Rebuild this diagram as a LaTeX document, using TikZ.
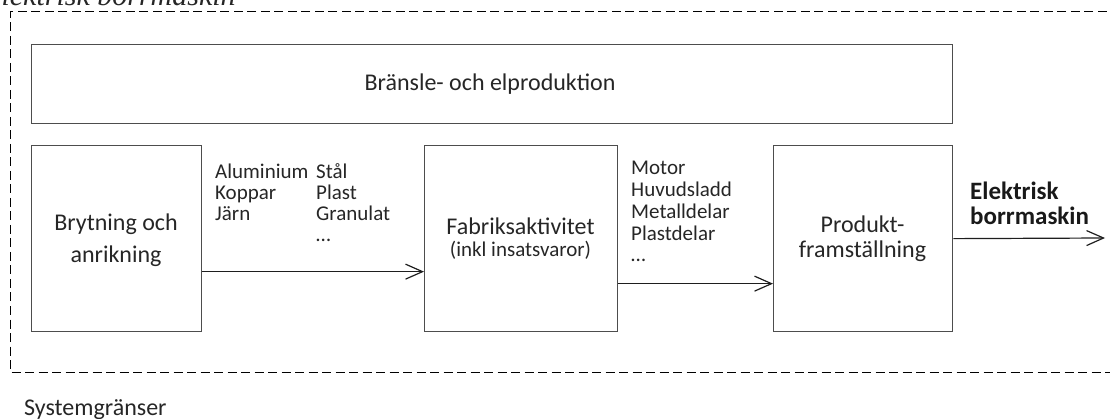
\documentclass[tikz,border=0pt]{standalone}
\usepackage{fontspec}
\setmainfont{Carlito}
\newfontfamily\titlefont{Liberation Serif}
\usetikzlibrary{arrows.meta}
\definecolor{boxgray}{HTML}{4D4D4D}
\definecolor{txtgray}{HTML}{262626}
\definecolor{linegray}{HTML}{1E1E1E}
\begin{document}
\begin{tikzpicture}[x=1pt,y=-1pt,
  box/.style={draw=boxgray, line width=1.3pt, anchor=north west, inner sep=0pt, minimum height=186pt},
  boxtxt/.style={anchor=base, inner sep=0pt, text=txtgray, font=\fontsize{24}{28}\selectfont},
  lbl/.style={anchor=base west, inner sep=0pt, text=txtgray, font=\fontsize{21}{25}\selectfont},
  arr/.style={draw=linegray, line width=1.2pt, -{Straight Barb[length=17pt,width=15pt]}},
  boundary/.style={draw=black, line width=1pt, dash pattern=on 9pt off 4.5pt}]
\useasboundingbox (0,0) rectangle (1110,419);
\clip (0,0) rectangle (1110,419);
% title (clipped at top)
\node[anchor=base west, inner sep=0pt, text=txtgray, font=\titlefont\itshape\fontsize{30}{36}\selectfont] (title) at (-17,5.5) {Elektrisk borrmaskin};
% system boundary
\draw[boundary] (1120,12) -- (10,12) -- (10,372) -- (1120,372);
% boxes
\node[box, minimum width=921pt, minimum height=79pt] (fuel) at (31,44) {};
\node[box, minimum width=170pt] (b1) at (31,145) {};
\node[box, minimum width=193pt] (b2) at (424,145) {};
\node[box, minimum width=179pt] (b3) at (773,145) {};
% box texts
\node[boxtxt] (fuelt) at (490,90.7) {Bränsle- och elproduktion};
\node[boxtxt] (b1a) at (116,231) {Brytning och};
\node[boxtxt] (b1b) at (116,263) {anrikning};
\node[boxtxt] (b2a) at (520.5,235) {Fabriksaktivitet};
\node[boxtxt, font=\fontsize{21}{25}\selectfont] (b2b) at (520.5,256.7) {(inkl insatsvaror)};
\node[boxtxt] (b3a) at (862.5,233) {Produkt-};
\node[boxtxt] (b3b) at (862.5,258) {framställning};
% arrows
\coordinate (out) at (1105,238);
\draw[arr] ([yshift=-33pt]b1.east) -- ([yshift=-33pt]b2.west);
\draw[arr] ([yshift=-45pt]b2.east) -- ([yshift=-45pt]b3.west);
\draw[arr] (b3.east) -- (out);
% flow labels
\node[lbl] (l1) at (215,178.3) {Aluminium};
\node[lbl] (l2) at (215,199.5) {Koppar};
\node[lbl] (l3) at (215,220.7) {Järn};
\node[lbl] (m1) at (316,178.3) {Stål};
\node[lbl] (m2) at (316,199.5) {Plast};
\node[lbl] (m3) at (316,220.7) {Granulat};
\node[lbl] (m4) at (316,242) {…};
\node[lbl] (p1) at (631,175) {Motor};
\node[lbl] (p2) at (631,196.7) {Huvudsladd};
\node[lbl] (p3) at (631,218.4) {Metalldelar};
\node[lbl] (p4) at (631,240.1) {Plastdelar};
\node[lbl] (p5) at (631,261.8) {…};
\node[lbl, font=\bfseries\fontsize{25}{29}\selectfont, text=black!90] (e1) at (970,199.3) {Elektrisk};
\node[lbl, font=\bfseries\fontsize{25}{29}\selectfont, text=black!90] (e2) at (970,225) {borrmaskin};
\node[lbl, font=\fontsize{24}{28}\selectfont] (sys) at (24,415) {Systemgränser};
\end{tikzpicture}
\end{document}
